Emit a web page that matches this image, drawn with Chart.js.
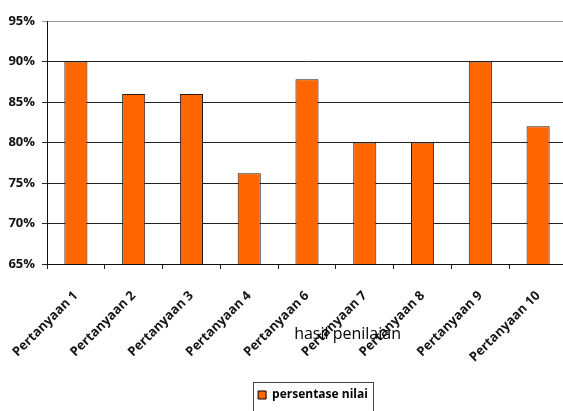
<!DOCTYPE html>
<html><head><meta charset="utf-8">
<script src="https://cdn.jsdelivr.net/npm/chart.js@4"></script>
<style>html,body{margin:0;padding:0;overflow:hidden;background:#fff;width:563px;height:411px}
#wrap{position:absolute;left:0;top:0;width:567px;height:411px}</style>
</head><body><div id="wrap"><canvas id="c"></canvas></div>
<script>
const categories = ['Pertanyaan 1','Pertanyaan 2','Pertanyaan 3','Pertanyaan 4','Pertanyaan 6','Pertanyaan 7','Pertanyaan 8','Pertanyaan 9','Pertanyaan 10'];
const seriesName = 'persentase nilai';
const seriesValues = [90, 86, 86, 76.2, 87.8, 80, 80, 90, 82];
const yMin = 65, yMax = 95, yStep = 5;
const xTitle = 'hasil penilaian';

const legendShift = 6;
const extras = {
  id: 'extras',
  afterLayout(chart) {
    const lg = chart.legend;
    if (lg) { lg.left += legendShift; lg.right += legendShift; }
  },
  afterDraw(chart) {
    const ctx = chart.ctx, a = chart.chartArea;
    ctx.save();
    // x-axis title (overlapping labels as in the original)
    ctx.font = '16px "Open Sans"';
    ctx.fillStyle = '#000';
    ctx.textAlign = 'center';
    ctx.textBaseline = 'middle';
    ctx.fillText(xTitle, a.left + (a.right - a.left) * 0.578, 334);
    // legend frame
    const hb = chart.legend.legendHitBoxes[0];
    if (hb) {
      const cy = hb.top + hb.height / 2;
      ctx.strokeStyle = '#444';
      ctx.lineWidth = 1;
      ctx.strokeRect(Math.round(hb.left - 5) + 0.5, Math.round(cy - 13) + 0.5, Math.round(hb.width + 10), 40);
    }
    ctx.restore();
  }
};

new Chart(document.getElementById('c'), {
  type: 'bar',
  data: {
    labels: categories,
    datasets: [{
      label: seriesName,
      data: seriesValues,
      backgroundColor: '#FF6600',
      borderColor: '#2a1a10',
      borderWidth: 1,
      barPercentage: 0.5,
      categoryPercentage: 0.8
    }]
  },
  options: {
    responsive: true,
    maintainAspectRatio: false,
    animation: false,
    layout: { padding: { top: 21, left: 0, right: 0, bottom: 0 } },
    plugins: {
      tooltip: { enabled: false },
      legend: {
        position: 'bottom',
        fullSize: false,
        labels: {
          boxWidth: 8, boxHeight: 8, padding: 10,
          color: '#111',
          font: { family: '"Open Sans"', size: 12, weight: 'bold' },
          generateLabels(chart) {
            const ds = chart.data.datasets[0];
            return [{ text: ds.label, fillStyle: '#FF6600', strokeStyle: '#000', lineWidth: 1, datasetIndex: 0 }];
          }
        }
      }
    },
    scales: {
      x: {
        afterFit(s) { s.height = 115; s.paddingLeft = 0; s.paddingRight = 0; },
        grid: { display: true, drawOnChartArea: false, drawTicks: true, tickLength: 5, color: '#222', offset: true },
        border: { display: true, color: '#111', width: 1 },
        ticks: {
          autoSkip: false, minRotation: 45, maxRotation: 45, padding: 19,
          color: '#151515',
          font: { family: '"Open Sans"', size: 13, weight: 'bold' }
        }
      },
      y: {
        min: yMin, max: yMax,
        afterFit(s) { s.width = 47; },
        grid: {
          drawTicks: true, tickLength: 5,
          color: (c) => (c.tick && c.tick.value === yMax) ? '#999' : '#222',
          lineWidth: 1
        },
        border: { display: true, color: '#111', width: 1 },
        ticks: {
          stepSize: yStep, padding: 7,
          color: '#111',
          font: { family: '"Open Sans"', size: 13, weight: 'bold' },
          callback: (v) => v + '%'
        }
      }
    }
  },
  plugins: [extras]
});
</script>
</body></html>
